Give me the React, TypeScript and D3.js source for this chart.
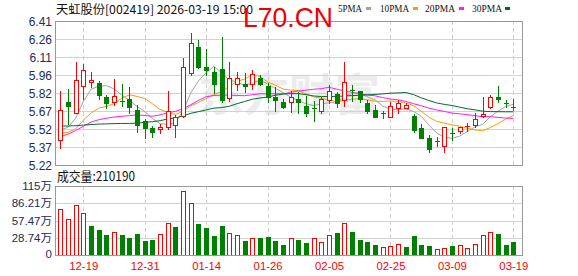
import React from "react";
import * as d3 from "d3";

const dates = [
  "12-16","12-17","12-18","12-19","12-22","12-23","12-24","12-25","12-26","12-29",
  "12-30","12-31","01-05","01-06","01-07","01-08","01-09","01-12","01-13","01-14",
  "01-15","01-16","01-19","01-20","01-21","01-22","01-23","01-26","01-27","01-28",
  "01-29","01-30","02-02","02-03","02-04","02-05","02-06","02-09","02-10","02-11",
  "02-12","02-13","02-24","02-25","02-26","02-27","03-02","03-03","03-04","03-05",
  "03-06","03-09","03-10","03-11","03-12","03-13","03-16","03-17","03-18","03-19",
];
const opens = [
  5.427,5.743,5.652,5.873,5.903,5.898,5.779,5.738,5.752,5.763,
  5.675,5.586,5.526,5.515,5.531,5.548,5.628,5.978,6.192,6.027,
  5.989,6.011,5.771,5.887,5.887,5.889,5.936,5.873,5.785,5.743,
  5.738,5.763,5.708,5.694,5.666,5.757,5.807,5.757,5.843,5.832,
  5.730,5.675,5.650,5.620,5.694,5.694,5.628,5.529,5.446,5.418,
  5.380,5.482,5.501,5.534,5.548,5.628,5.697,5.785,5.732,5.694,
];
const highs = [
  5.832,5.848,6.068,6.055,5.991,5.917,5.801,5.928,5.887,5.867,
  5.713,5.603,5.540,5.556,5.832,5.633,6.101,6.308,6.253,6.176,
  6.033,6.275,6.068,5.986,5.978,6.002,5.964,5.895,5.867,5.763,
  5.832,5.826,5.790,5.749,5.785,5.881,5.826,6.068,5.881,5.834,
  5.757,5.713,5.666,5.743,5.757,5.730,5.639,5.559,5.468,5.449,
  5.537,5.523,5.537,5.570,5.652,5.779,5.798,5.873,5.757,5.763,
];
const lows = [
  5.363,5.559,5.647,5.765,5.867,5.765,5.691,5.713,5.710,5.647,
  5.490,5.446,5.454,5.482,5.515,5.449,5.620,5.964,6.019,5.964,
  5.812,5.743,5.752,5.840,5.826,5.848,5.881,5.743,5.669,5.688,
  5.655,5.647,5.628,5.586,5.647,5.730,5.697,5.708,5.752,5.738,
  5.652,5.614,5.611,5.620,5.652,5.688,5.490,5.440,5.325,5.377,
  5.325,5.427,5.482,5.501,5.537,5.620,5.694,5.743,5.697,5.675,
];
const closes = [
  5.674,5.710,5.920,6.002,5.920,5.801,5.735,5.787,5.746,5.702,
  5.548,5.529,5.495,5.534,5.669,5.620,6.027,6.225,6.033,6.005,
  5.887,5.757,5.936,5.940,5.873,5.969,5.889,5.779,5.757,5.702,
  5.779,5.741,5.652,5.683,5.766,5.834,5.735,5.909,5.832,5.766,
  5.669,5.620,5.644,5.708,5.735,5.716,5.509,5.446,5.350,5.407,
  5.531,5.473,5.531,5.540,5.600,5.639,5.779,5.768,5.727,5.699,
];
// closes of the 29 sessions before the visible window (for the moving averages)
const priorCloses = [
  5.710,5.830,5.852,5.800,5.681,5.675,5.727,5.716,5.672,5.512,
  5.310,5.320,5.302,5.220,5.401,5.495,5.587,5.626,5.582,5.428,
  5.630,5.620,5.302,5.320,5.396,5.600,5.545,5.317,5.409,
];
const volumes = [
  762000,595000,828000,695000,483000,417000,333000,378000,333000,278000,
  350000,233000,250000,344000,528000,467000,1067000,861000,517000,450000,
  317000,483000,361000,333000,233000,278000,278000,294000,233000,167000,
  278000,250000,206000,278000,217000,333000,361000,528000,378000,250000,
  217000,167000,128000,150000,183000,133000,317000,167000,150000,94000,
  111000,150000,167000,111000,183000,333000,378000,350000,167000,210190,
];
const priceTicks = ["6.41","6.26","6.11","5.96","5.82","5.67","5.52","5.37","5.22"];
const volTicks = ["115万","86.21万","57.47万","28.74万","0"];
const xTickDates = ["12-19","12-31","01-14","01-26","02-05","02-25","03-09","03-19"];
const maPeriods = [5, 10, 20, 30];
const maLabels = ["5PMA", "10PMA", "20PMA", "30PMA"];
const maColors = ["#a3a3a3", "#f5a000", "#ff1aff", "#006b2e"];

const RED = "#ff0000";
const GREEN = "#008000";

export default function App() {
  const W = 578, H = 276;
  const L = 55, R = 522, T = 21, MB = 165, VT = 186, VB = 255;
  const x = d3.scaleBand<string>().domain(dates).range([56.4, 517.2]).paddingInner(0).paddingOuter(0);
  const xc = (i: number) => (x(dates[i]) as number) + x.bandwidth() / 2;
  const y = d3.scaleLinear().domain([5.22, 6.41]).range([MB, T]);
  const yv = d3.scaleLinear().domain([0, 1150000]).range([VB, VT]);

  const all = priorCloses.concat(closes);
  const off = priorCloses.length;
  const mas = maPeriods.map((n) =>
    closes.map((_, i) => d3.mean(all.slice(off + i - n + 1, off + i + 1)) as number)
  );
  const line = d3.line<number>().x((_, i) => xc(i)).y((d) => y(d));

  const font = "'Liberation Sans', Arial, sans-serif";
  const labelColor = "#1d2b55";
  const pTickVals = priceTicks.map((_, k) => 6.41 - (k * (6.41 - 5.22)) / (priceTicks.length - 1));
  const vTickVals = volTicks.map((_, k) => 1150000 - (k * 1150000) / (volTicks.length - 1));
  const vLabelY = [190, 207, 224.5, 241.5, 257.5];

  return (
    <svg width={W} height={H} style={{ display: "block", position: "absolute", left: 0, top: 0 }} fontFamily={font}>
      <rect x={0} y={0} width={W} height={H} fill="#fff" />
      {/* faint logo watermark */}
      <text x={198} y={111} fontSize={44} fontWeight="bold" fill="#ececec" fontFamily="'Noto Sans CJK SC', sans-serif" textLength={182} lengthAdjust="spacingAndGlyphs">东方财富</text>

      {/* main grid */}
      {pTickVals.map((v, k) => (
        <line key={"pg" + k} x1={L} x2={R} y1={Math.round(y(v)) + 0.5} y2={Math.round(y(v)) + 0.5} stroke="#d3d3d3" />
      ))}
      {vTickVals.map((v, k) => (
        <line key={"vg" + k} x1={L} x2={R} y1={Math.round(yv(v)) + 0.5} y2={Math.round(yv(v)) + 0.5} stroke="#d3d3d3" />
      ))}
      {xTickDates.map((d) => {
        const i = dates.indexOf(d);
        const xx = Math.round(xc(i)) + 0.5;
        return (
          <g key={"xg" + d}>
            <line x1={xx} x2={xx} y1={T} y2={MB} stroke="#cfcfcf" strokeDasharray="4,3" />
            <line x1={xx} x2={xx} y1={VT} y2={VB} stroke="#cfcfcf" strokeDasharray="4,3" />
          </g>
        );
      })}

      {/* MA lines */}
      {mas.map((m, k) => (
        <path key={"ma" + k} d={line(m) as string} fill="none" stroke={maColors[k]} strokeWidth={1} />
      ))}

      {/* candles */}
      {closes.map((c, i) => {
        const o = opens[i];
        const cx = Math.round(xc(i));
        const up = c >= o;
        const color = up ? RED : GREEN;
        const yTop = Math.round(y(Math.max(o, c)));
        const yBot = Math.round(y(Math.min(o, c)));
        const h = yBot - yTop;
        return (
          <g key={"c" + i}>
            <line x1={cx + 0.5} x2={cx + 0.5} y1={Math.round(y(highs[i]))} y2={Math.round(y(lows[i])) + 1} stroke={color} />
            {h < 2 ? (
              <line x1={cx - 2} x2={cx + 3} y1={yTop + 0.5} y2={yTop + 0.5} stroke={color} />
            ) : up ? (
              <rect x={cx - 1.5} y={yTop + 0.5} width={4} height={h} fill="#fff" stroke={color} />
            ) : (
              <rect x={cx - 2} y={yTop} width={5} height={h + 1} fill={color} />
            )}
          </g>
        );
      })}

      {/* volume bars */}
      {volumes.map((v, i) => {
        const prev = i === 0 ? priorCloses[priorCloses.length - 1] : closes[i - 1];
        const up = closes[i] >= prev;
        const cx = Math.round(xc(i));
        const yt = Math.round(yv(v));
        return up ? (
          <rect key={"v" + i} x={cx - 1.5} y={yt + 0.5} width={4} height={VB - yt} fill="#fff" stroke={RED} />
        ) : (
          <rect key={"v" + i} x={cx - 2} y={yt} width={5} height={VB - yt + 1} fill={GREEN} />
        );
      })}

      {/* frames */}
      <rect x={L + 0.5} y={T + 0.5} width={R - L} height={MB - T} fill="none" stroke="#999" />
      <rect x={L + 0.5} y={VT + 0.5} width={R - L} height={VB - VT} fill="none" stroke="#999" />

      {/* price axis labels */}
      {priceTicks.map((t, k) => (
        <text key={"pt" + k} x={52} y={y(pTickVals[k]) + 4.5} fontSize={12} textAnchor="end" fill={labelColor}>{t}</text>
      ))}
      {volTicks.map((t, k) => (
        <text key={"vt" + k} x={52} y={vLabelY[k]} fontSize={11.5} textAnchor="end" fill={labelColor}
          fontFamily={t === "0" ? font : "'Liberation Sans', 'Noto Sans CJK SC', sans-serif"}>{t}</text>
      ))}
      {xTickDates.map((d) => (
        <text key={"xt" + d} x={xc(dates.indexOf(d)) + 0.5} y={270} fontSize={11} textAnchor="middle" fill={RED} textLength={29} lengthAdjust="spacingAndGlyphs">{d}</text>
      ))}

      {/* header */}
      <text x={56} y={14} fontSize={12} fill="#111" fontFamily="'Noto Sans CJK SC', sans-serif" textLength={197} lengthAdjust="spacingAndGlyphs">天虹股份[002419] 2026-03-19 15:00</text>
      <text x={243} y={27} fontSize={28} fill="#ee0000" fontFamily="'Liberation Sans', Arial, sans-serif" textLength={90} lengthAdjust="spacingAndGlyphs">L70.CN</text>
      {maLabels.map((lab, k) => {
        const xs = [338, 380, 425, 472][k];
        const ws = [24, 29, 30, 30][k];
        const sw = [366, 413, 459, 505][k];
        return (
          <g key={"lg" + k}>
            <text x={xs} y={12} fontSize={10} fill="#111" fontFamily="'Liberation Serif', serif" textLength={ws} lengthAdjust="spacingAndGlyphs">{lab}</text>
            <rect x={sw} y={7} width={5} height={3} fill={maColors[k]} />
          </g>
        );
      })}

      {/* volume caption */}
      <text x={57} y={181} fontSize={13} fill="#111" fontFamily="'Noto Sans CJK SC', sans-serif" textLength={78} lengthAdjust="spacingAndGlyphs">成交量:210190</text>
    </svg>
  );
}
